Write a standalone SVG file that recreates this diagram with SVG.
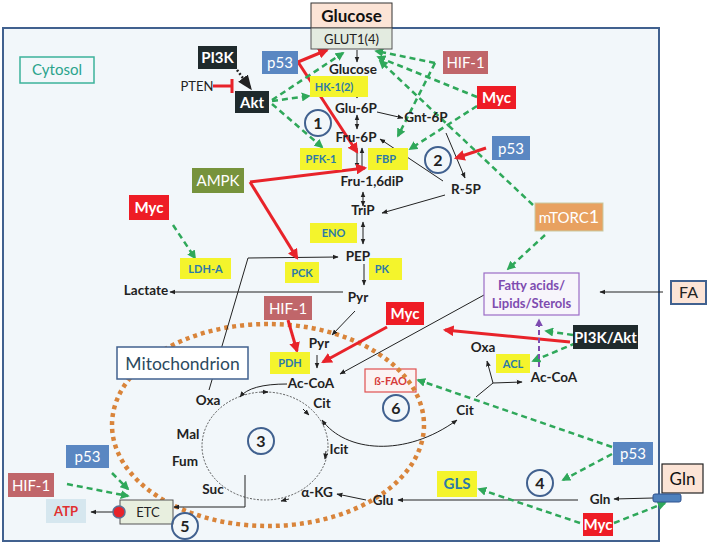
<svg xmlns="http://www.w3.org/2000/svg" width="709" height="545" viewBox="0 0 709 545">
<defs>
<style>
text{font-family:Lato,"Open Sans","Liberation Sans",sans-serif}
.met{font-size:13.5px;font-weight:bold;fill:#222;text-anchor:middle}
.enz rect{fill:#f4f42c}
.enz text{font-size:11px;font-weight:bold;fill:#2c7aa8;text-anchor:middle}
.nd text{font-size:15px;fill:#fff;text-anchor:middle}
.blue rect{fill:#5a87c2}
.red rect{fill:#ee1c25}
.red text{font-weight:bold}
.rose rect{fill:#c0666a}
.black rect{fill:#1f2a2c}
.black text{font-weight:bold}
.num circle{fill:none;stroke:#41618f;stroke-width:2}
.num text{font-size:16px;font-weight:bold;fill:#222;text-anchor:middle}
.thin{fill:none;stroke:#222;stroke-width:1;marker-end:url(#ab)}
.rd{fill:none;stroke:#e8232a;stroke-width:3;marker-end:url(#ar)}
.gr{fill:none;stroke:#2fa85a;stroke-width:2.5;stroke-dasharray:6 4;marker-end:url(#ag)}
.dbl{fill:none;stroke:#222;stroke-width:1;marker-end:url(#ab);marker-start:url(#ab)}
</style>
<marker id="ab" viewBox="0 0 10 10" refX="9" refY="5" markerWidth="6" markerHeight="6" orient="auto-start-reverse"><path d="M0,1 L10,5 L0,9 z" fill="#222"/></marker>
<marker id="ar" viewBox="0 0 10 10" refX="8" refY="5" markerWidth="3.6" markerHeight="3.6" orient="auto"><path d="M0,0 L10,5 L0,10 z" fill="#e8232a"/></marker>
<marker id="ag" viewBox="0 0 10 10" refX="8" refY="5" markerWidth="3.6" markerHeight="3.6" orient="auto"><path d="M0,0 L10,5 L0,10 z" fill="#2fa85a"/></marker>
<marker id="ap" viewBox="0 0 10 10" refX="8" refY="5" markerWidth="4" markerHeight="4" orient="auto"><path d="M0,0 L10,5 L0,10 z" fill="#7e4cb0"/></marker>
</defs>

<rect x="0" y="0" width="709" height="545" fill="#ffffff"/>
<g id="cytosol-frame">
<rect x="3" y="28" width="656" height="513" fill="#f2f7fa" stroke="#41618f" stroke-width="2"/>
</g>
<g id="cytosol-label">
<rect x="20" y="57" width="74" height="26" fill="none" stroke="#3cb39a" stroke-width="1.5"/>
<text x="57" y="75" font-size="15" fill="#2aa38c" text-anchor="middle">Cytosol</text>
</g>

<g id="tca-cycle">
<ellipse cx="265" cy="446" rx="63" ry="54" fill="none" stroke="#333" stroke-width="0.8" stroke-dasharray="2 1.5"/>
</g>

<g id="bfao">
<rect x="365" y="369" width="51" height="23" fill="#fbf3f3" stroke="#e05050" stroke-width="1.2"/>
<text x="390.5" y="385" font-size="11" font-weight="bold" fill="#d63a3a" text-anchor="middle">ß-FAO</text>
</g>

<g id="mitochondrion">
<ellipse cx="268" cy="425" rx="156" ry="101" fill="none" stroke="#d9843a" stroke-width="4.5" stroke-dasharray="4 4"/>
</g>

<g id="connectors">
<path class="thin" d="M357,50 L357,62"/>
<path class="thin" d="M357,76 L357,98"/>
<path class="dbl" d="M357,115 L357,129"/>
<path class="thin" d="M357,148 L357,168"/>
<path class="thin" d="M362,168 L362,148"/>
<path class="dbl" d="M363,192 L363,206"/>
<path class="dbl" d="M363,222 L363,244"/>
<path class="thin" d="M364,264 L364,285"/>
<path class="thin" d="M377,112 L403,118"/>
<path class="thin" d="M446,133 L465,178"/>
<path class="thin" d="M443,181 L380,139"/>
<path class="thin" d="M445,195 L382,213"/>
<path class="thin" d="M343,292 L170,292"/>
<path class="thin" d="M209,390 L248,258 L338,257"/>
<path class="thin" d="M355,311 L332,335"/>
<path class="thin" d="M317,355 L317,368"/>
<path class="thin" d="M484,295 L340,374"/>
<path class="thin" d="M663,292 L600,292"/>
<path class="thin" d="M287,384 Q250,384 240,397"/>
<path class="thin" d="M261,392 L268,392"/>
<path class="thin" d="M303,409 L309,415"/>
<path class="thin" d="M326,451 L325,459"/>
<path class="thin" d="M289,499 L281,501"/>
<path class="dbl" d="M322,420 C345,452 405,458 457,420"/>
<path class="thin" d="M476,397 L493,383 L522,382"/>
<path class="thin" d="M493,383 L487,361"/>
<path class="thin" d="M245,475 L245,507 L174,507"/>
<path class="thin" d="M113,512 L91,512"/>
<path class="thin" d="M653,498 L614,499"/>
<path class="thin" d="M578,500 L398,500"/>
<path class="thin" d="M366,500 L337,494"/>
<path d="M237,70 L251,89" fill="none" stroke="#222" stroke-width="2.5" stroke-dasharray="2 2" marker-end="url(#ab)"/>
<path d="M213,86 L231,86 M232,79 L232,93" fill="none" stroke="#e8232a" stroke-width="3"/>
<path class="rd" d="M298,62 L327,50"/>
<path class="rd" d="M298,62 L357,152"/>
<path class="rd" d="M486,148 L456,158"/>
<path class="rd" d="M250,182 L365,168"/>
<path class="rd" d="M250,182 L297,258"/>
<path class="rd" d="M288,320 L297,351"/>
<path class="rd" d="M387,327 L323,362"/>
<path class="rd" d="M570,342 L445,330"/>
<path class="gr" d="M272,100 L343,53"/>
<path class="gr" d="M272,101 L309,96"/>
<path class="gr" d="M272,104 L322,147"/>
<path class="gr" d="M435,63 L376,51"/>
<path class="gr" d="M435,63 L398,136"/>
<path class="gr" d="M477,97 L378,57"/>
<path class="gr" d="M477,106 L410,149"/>
<path class="gr" d="M533,205 L380,61"/>
<path class="gr" d="M545,235 L508,269"/>
<path class="gr" d="M173,225 L195,258"/>
<path class="gr" d="M573,335 L546,331"/>
<path class="gr" d="M576,343 L533,361"/>
<path class="gr" d="M612,447 L418,380"/>
<path class="gr" d="M612,454 L563,480"/>
<path class="gr" d="M580,523 L479,489"/>
<path class="gr" d="M614,523 L665,503"/>
<path class="gr" d="M112,473 L128,489"/>
<path class="gr" d="M67,484 L128,496"/>
<path d="M539,367 L539,320" fill="none" stroke="#7e4cb0" stroke-width="2" stroke-dasharray="5 3" marker-end="url(#ap)"/>
</g>

<g id="mito-label">
<rect x="117" y="347" width="131" height="32" fill="#fff" stroke="#41618f" stroke-width="1.5"/>
<text x="182.5" y="370" font-size="17.5" fill="#2b4a60" text-anchor="middle">Mitochondrion</text>
</g>

<g id="glucose-ext">
<rect x="311" y="3" width="81" height="25" fill="#fce4d6" stroke="#333" stroke-width="1"/>
<text x="351.5" y="22" font-size="17" font-weight="bold" fill="#111" text-anchor="middle">Glucose</text>
</g>
<g id="glut">
<rect x="311" y="28" width="81" height="21" fill="#e3ebe0" stroke="#555" stroke-width="1"/>
<text x="351.5" y="43.5" font-size="13" fill="#222" text-anchor="middle">GLUT1(4)</text>
</g>

<g id="pi3k" class="nd black"><rect x="198" y="46" width="39" height="23"/><text x="217.5" y="63">PI3K</text></g>
<g id="pten"><text x="197" y="91" font-size="13" fill="#222" text-anchor="middle">PTEN</text></g>
<g id="akt" class="nd black"><rect x="235" y="91" width="34" height="22"/><text x="252" y="107.5">Akt</text></g>
<g id="p53-top" class="nd blue"><rect x="262" y="51" width="36" height="23"/><text x="280" y="67.5">p53</text></g>
<g id="hif1-top" class="nd rose"><rect x="443" y="51" width="45" height="23"/><text x="465.5" y="67.5">HIF-1</text></g>
<g id="myc-top" class="nd red"><rect x="477" y="86" width="39" height="23"/><text x="496.5" y="102.5">Myc</text></g>
<g id="p53-r5p" class="nd blue"><rect x="492" y="136" width="38" height="24"/><text x="511" y="153.5">p53</text></g>
<g id="ampk" class="nd"><rect x="192" y="168" width="52" height="25" fill="#77933c"/><text x="218" y="186">AMPK</text></g>
<g id="myc-left" class="nd red"><rect x="129" y="195" width="40" height="25"/><text x="149" y="213">Myc</text></g>
<g id="mtorc1" class="nd"><rect x="535" y="203" width="68" height="28" fill="#e8a160" stroke="#c9c9a0" stroke-width="1"/><text x="569" y="222.5">mTORC<tspan font-size="18">1</tspan></text></g>
<g id="hif1-mid" class="nd rose"><rect x="264" y="296" width="48" height="24"/><text x="288" y="313.5">HIF-1</text></g>
<g id="myc-mid" class="nd red"><rect x="386" y="302" width="38" height="23"/><text x="405" y="318.5">Myc</text></g>
<g id="pi3kakt" class="nd black"><rect x="573" y="325" width="65" height="24"/><text x="605.5" y="342.5">PI3K/Akt</text></g>
<g id="p53-low" class="nd blue"><rect x="613" y="442" width="40" height="23"/><text x="633" y="458.5">p53</text></g>
<g id="myc-low" class="nd red"><rect x="583" y="513" width="30" height="23"/><text x="598" y="529.5">Myc</text></g>
<g id="p53-etc" class="nd blue"><rect x="66" y="445" width="43" height="23"/><text x="87.5" y="461.5">p53</text></g>
<g id="hif1-etc" class="nd rose"><rect x="8" y="473" width="46" height="24"/><text x="31" y="490.5">HIF-1</text></g>

<g id="fa-ext">
<rect x="671" y="281" width="35" height="23" fill="#fce4d6" stroke="#41618f" stroke-width="2"/>
<text x="688.5" y="298" font-size="16" fill="#222" text-anchor="middle">FA</text>
</g>
<g id="gln-ext">
<rect x="662" y="464" width="41" height="29" fill="#fce4d6" stroke="#222" stroke-width="1.2"/>
<text x="682.5" y="484.5" font-size="17" fill="#111" text-anchor="middle">Gln</text>
</g>
<g id="gln-transporter">
<rect x="653" y="494" width="28" height="8" rx="2" fill="#4f81bd" stroke="#2f528f" stroke-width="1"/>
</g>

<g id="fatty-acids">
<rect x="484" y="273" width="95" height="42" fill="#f7f5fb" stroke="#9b6cc6" stroke-width="1.2"/>
<text x="531.5" y="290" font-size="13" font-weight="bold" fill="#7e4cb0" text-anchor="middle">Fatty acids/</text>
<text x="531.5" y="308" font-size="13" font-weight="bold" fill="#7e4cb0" text-anchor="middle">Lipids/Sterols</text>
</g>
<g id="etc">
<rect x="120" y="500" width="53" height="24" fill="#e8efdf" stroke="#555" stroke-width="1"/>
<text x="148" y="516.5" font-size="13" fill="#222" text-anchor="middle">ETC</text>
<circle cx="119" cy="512" r="6" fill="#e8232a" stroke="#5a6f95" stroke-width="1.5"/>
</g>
<g id="atp">
<rect x="46" y="499" width="40" height="24" fill="#d6e7ef"/>
<text x="66" y="516" font-size="13" font-weight="bold" fill="#e03030" text-anchor="middle">ATP</text>
</g>

<g id="hk" class="enz"><rect x="310" y="76" width="58" height="21"/><text x="334" y="90.5">HK-1(2)</text></g>
<g id="pfk1" class="enz"><rect x="300" y="148" width="42" height="22"/><text x="321" y="163">PFK-1</text></g>
<g id="fbp" class="enz"><rect x="368" y="148" width="40" height="22"/><text x="386" y="163">FBP</text></g>
<g id="eno" class="enz"><rect x="310" y="223" width="47" height="20"/><text x="333.5" y="237">ENO</text></g>
<g id="pk" class="enz"><rect x="369" y="258" width="33" height="22"/><text x="382" y="273">PK</text></g>
<g id="pck" class="enz"><rect x="285" y="262" width="34" height="21"/><text x="302" y="277">PCK</text></g>
<g id="ldha" class="enz"><rect x="180" y="258" width="51" height="21"/><text x="205.5" y="273">LDH-A</text></g>
<g id="pdh" class="enz"><rect x="270" y="352" width="40" height="22"/><text x="290" y="367">PDH</text></g>
<g id="acl" class="enz"><rect x="496" y="354" width="34" height="19"/><text x="513" y="368">ACL</text></g>
<g id="gls" class="enz"><rect x="437" y="471" width="40" height="26"/><text x="457" y="489" style="font-size:15px">GLS</text></g>

<g id="metabolites">
<text class="met" x="353" y="74">Glucose</text>
<text class="met" x="356" y="113">Glu-6P</text>
<text class="met" x="426" y="122">Gnt-6P</text>
<text class="met" x="356" y="142">Fru-6P</text>
<text class="met" x="372" y="186">Fru-1,6diP</text>
<text class="met" x="466" y="194">R-5P</text>
<text class="met" x="363" y="215">TriP</text>
<text class="met" x="358" y="261">PEP</text>
<text class="met" x="358" y="302">Pyr</text>
<text class="met" x="146" y="295">Lactate</text>
<text class="met" x="319" y="348">Pyr</text>
<text class="met" x="311" y="388">Ac-CoA</text>
<text class="met" x="208" y="405">Oxa</text>
<text class="met" x="322" y="408">Cit</text>
<text class="met" x="339" y="454">Icit</text>
<text class="met" x="317" y="497">α-KG</text>
<text class="met" x="213" y="494">Suc</text>
<text class="met" x="185" y="466">Fum</text>
<text class="met" x="188" y="439">Mal</text>
<text class="met" x="483" y="352">Oxa</text>
<text class="met" x="554" y="382">Ac-CoA</text>
<text class="met" x="465" y="415">Cit</text>
<text class="met" x="383" y="505">Glu</text>
<text class="met" x="600" y="504">Gln</text>
</g>

<g id="n1" class="num"><circle cx="318" cy="123" r="13"/><text x="318" y="129">1</text></g>
<g id="n2" class="num"><circle cx="438" cy="160" r="13"/><text x="438" y="166">2</text></g>
<g id="n3" class="num"><circle cx="261" cy="441" r="13"/><text x="261" y="447">3</text></g>
<g id="n4" class="num"><circle cx="540" cy="483" r="13"/><text x="540" y="489">4</text></g>
<g id="n5" class="num"><circle cx="185" cy="526" r="13"/><text x="185" y="532">5</text></g>
<g id="n6" class="num"><circle cx="396" cy="408" r="13"/><text x="396" y="414">6</text></g>
</svg>
